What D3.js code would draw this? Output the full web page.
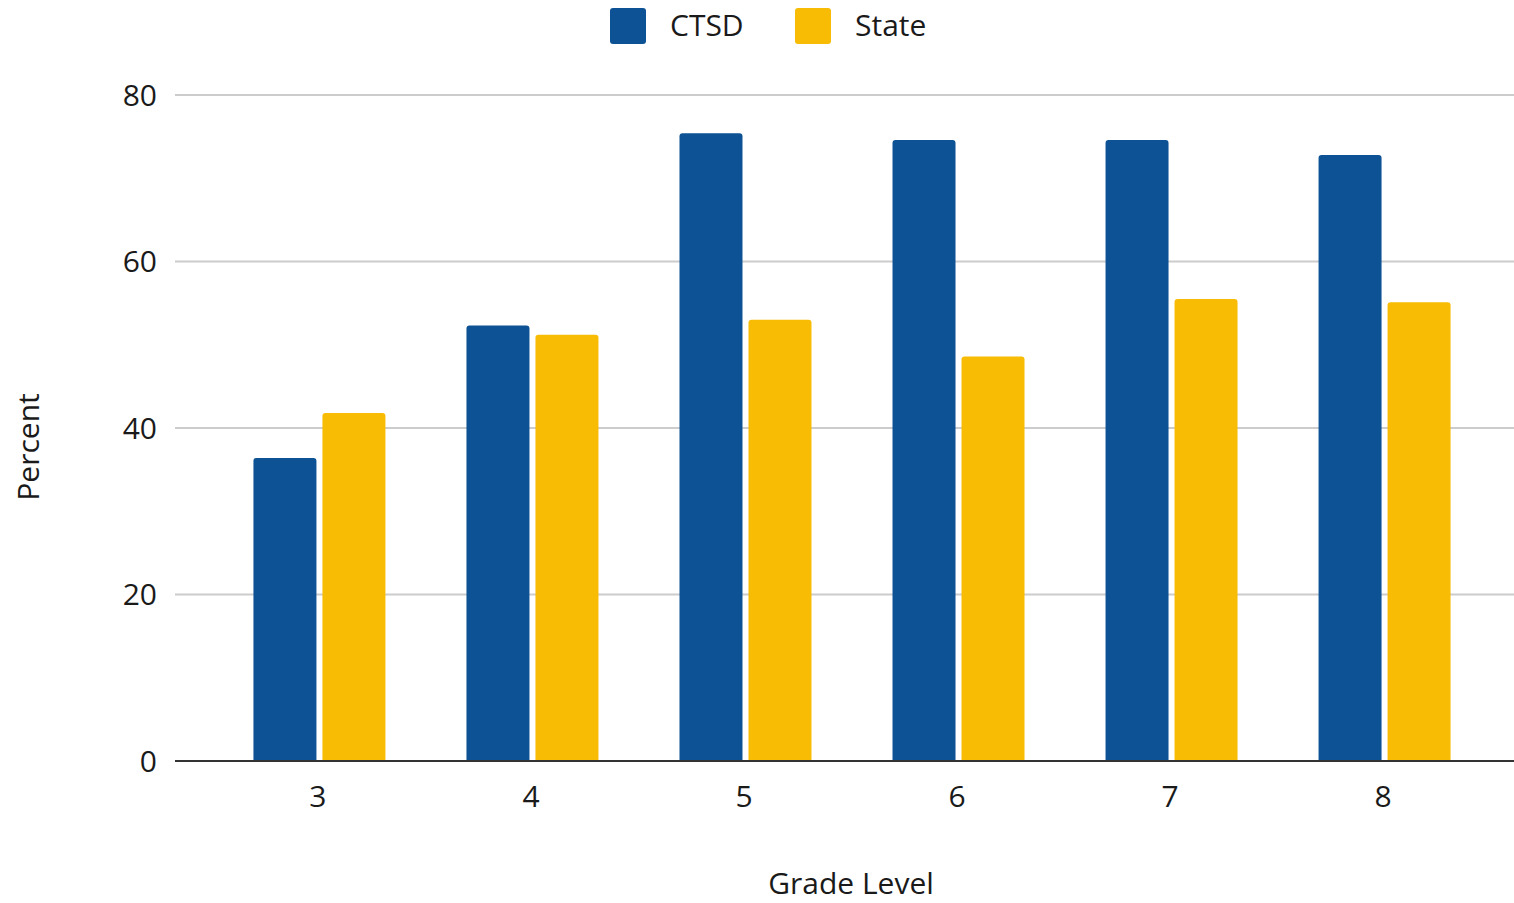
<!DOCTYPE html>
<html>
<head>
<meta charset="utf-8">
<script src="https://cdn.jsdelivr.net/npm/d3@7"></script>
<style>
  html, body { margin: 0; padding: 0; background: #fff; }
  svg { display: block; font-family: "Open Sans", sans-serif; }
</style>
</head>
<body>
<svg id="chart" width="1514" height="903"></svg>
<script>
const grades = ["3", "4", "5", "6", "7", "8"];
const seriesNames = ["CTSD", "State"];
const ctsd = [36.4, 52.3, 75.4, 74.6, 74.6, 72.8];
const state = [41.8, 51.2, 53.0, 48.6, 55.5, 55.1];
const yTicks = [0, 20, 40, 60, 80];
const colors = ["#0d5294", "#f8bc05"];

(function () {
const svg = d3.select("#chart");
const pLeft = 175, pRight = 1526, pTop = 95, pBottom = 761;

const x = d3.scaleBand().domain(grades).range([pLeft, pRight]).paddingInner(0).paddingOuter(0.171);
const xs = d3.scaleBand().domain(seriesNames).range([-66, 66]).paddingInner(0.087);
const y = d3.scaleLinear().domain([0, 80]).range([pBottom, pTop]);

// gridlines
svg.append("g").selectAll("line").data(yTicks.filter(d => d !== 0)).join("line")
  .attr("x1", pLeft).attr("x2", 1514)
  .attr("y1", d => y(d)).attr("y2", d => y(d))
  .attr("stroke", "#cccccc").attr("stroke-width", 2);

// y tick labels
svg.append("g").selectAll("text").data(yTicks).join("text")
  .attr("x", 157).attr("y", d => y(d)).attr("dy", "0.35em")
  .attr("text-anchor", "end").attr("font-size", 30).attr("fill", "#1a1a1a")
  .text(d => d);

// bars
const data = grades.map((g, i) => ({ g, vals: [ctsd[i], state[i]] }));
const groups = svg.append("g").selectAll("g").data(data).join("g")
  .attr("transform", d => `translate(${x(d.g) + x.bandwidth() / 2 + 1.5},0)`);

function roundedTop(x0, w, yTop, yBot, r) {
  return `M${x0},${yBot}V${yTop + r}Q${x0},${yTop} ${x0 + r},${yTop}H${x0 + w - r}Q${x0 + w},${yTop} ${x0 + w},${yTop + r}V${yBot}Z`;
}
groups.selectAll("path").data(d => d.vals.map((v, i) => ({ v, s: seriesNames[i], i }))).join("path")
  .attr("d", d => roundedTop(xs(d.s), xs.bandwidth(), y(d.v), y(0), 3))
  .attr("fill", d => colors[d.i]);

// baseline
svg.append("line").attr("x1", pLeft).attr("x2", 1514).attr("y1", y(0)).attr("y2", y(0))
  .attr("stroke", "#333").attr("stroke-width", 2);

// x tick labels
svg.append("g").selectAll("text").data(grades).join("text")
  .attr("x", d => x(d) + x.bandwidth() / 2).attr("y", 796).attr("dy", "0.35em")
  .attr("text-anchor", "middle").attr("font-size", 30).attr("fill", "#1a1a1a")
  .text(d => d);

// axis titles
svg.append("text").attr("x", 851).attr("y", 883).attr("dy", "0.35em")
  .attr("text-anchor", "middle").attr("font-size", 30).attr("fill", "#1a1a1a").text("Grade Level");
svg.append("text").attr("transform", "translate(28,447) rotate(-90)").attr("dy", "0.35em")
  .attr("text-anchor", "middle").attr("font-size", 30).attr("fill", "#1a1a1a").text("Percent");

// legend
const legendX = [610, 795];
const leg = svg.append("g").selectAll("g").data(seriesNames).join("g")
  .attr("transform", (d, i) => `translate(${legendX[i]},8)`);
leg.append("rect").attr("width", 36).attr("height", 36).attr("rx", 3)
  .attr("fill", (d, i) => colors[i]);
leg.append("text").attr("x", 60).attr("y", 17).attr("dy", "0.35em")
  .attr("font-size", 30).attr("fill", "#1a1a1a").text(d => d);
})();
</script>
</body>
</html>
